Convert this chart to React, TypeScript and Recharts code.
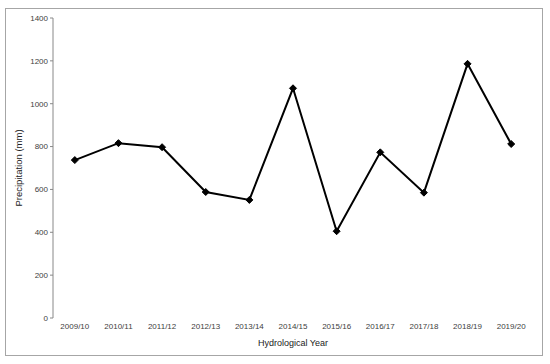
import { LineChart, Line, XAxis, YAxis } from 'recharts';

const years = ['2009/10', '2010/11', '2011/12', '2012/13', '2013/14', '2014/15', '2015/16', '2016/17', '2017/18', '2018/19', '2019/20'];
const precipitation = [737, 816, 797, 588, 551, 1072, 405, 773, 585, 1186, 812];
const yTicks = [0, 200, 400, 600, 800, 1000, 1200, 1400];
const bandEdges = [0, 1, 2, 3, 4, 5, 6, 7, 8, 9, 10, 11];

const data = years.map((year, i) => ({ year, value: precipitation[i] }));

const FONT = '"Liberation Sans", Arial, sans-serif';

const Diamond = (props: any) => {
  const { cx, cy } = props;
  if (cx == null || cy == null) return null;
  const r = 3.5;
  return (
    <polygon
      points={`${cx},${cy - r} ${cx + r},${cy} ${cx},${cy + r} ${cx - r},${cy}`}
      fill="#000"
      stroke="#000"
    />
  );
};

export default function App() {
  return (
    <div style={{ position: 'absolute', left: 0, top: 0, width: 550, height: 364, background: '#fff' }}>
      <div
        style={{
          position: 'absolute',
          left: 5,
          top: 8,
          width: 536,
          height: 346,
          border: '1px solid #a6a6a6',
          pointerEvents: 'none',
        }}
      />
      <LineChart width={550} height={364} data={data} margin={{ top: 18, right: 17, left: 13, bottom: 0 }}>
        {/* tick marks on the category boundaries */}
        <XAxis
          xAxisId="edges"
          type="number"
          dataKey="none"
          domain={[0, 11]}
          ticks={bandEdges}
          height={0}
          tickFormatter={() => ''}
          tickLine={{ stroke: '#888' }}
          axisLine={{ stroke: '#888' }}
          tickSize={3}
        />
        <XAxis
          dataKey="year"
          xAxisId="main"
          scale="band"
          height={46}
          tick={{ fontSize: 8, fill: '#404040', fontFamily: FONT }}
          tickLine={false}
          axisLine={false}
          tickSize={3}
          interval={0}
          label={{ value: 'Hydrological Year', position: 'insideBottom', offset: 18, fontSize: 9, fill: '#222', fontFamily: FONT }}
        />
        <XAxis xAxisId="top" orientation="top" dataKey="year" height={0} tick={false} tickLine={false} axisLine={{ stroke: '#e0e0e0' }} />
        <YAxis
          yAxisId="main"
          width={40}
          domain={[0, 1400]}
          ticks={yTicks}
          tick={{ fontSize: 8, fill: '#404040', fontFamily: FONT }}
          tickLine={{ stroke: '#888' }}
          axisLine={{ stroke: '#888' }}
          tickSize={3}
          label={{ value: 'Precipitation (mm)', angle: -90, position: 'insideLeft', offset: 6, fontSize: 9.5, fill: '#222', fontFamily: FONT, style: { textAnchor: 'middle' } }}
        />
        <YAxis yAxisId="right" orientation="right" width={0} domain={[0, 1400]} tick={false} tickLine={false} axisLine={{ stroke: '#e0e0e0' }} />
        <Line
          xAxisId="main"
          yAxisId="main"
          type="linear"
          dataKey="value"
          stroke="#000"
          strokeWidth={2}
          dot={<Diamond />}
          activeDot={false}
          isAnimationActive={false}
        />
      </LineChart>
    </div>
  );
}
